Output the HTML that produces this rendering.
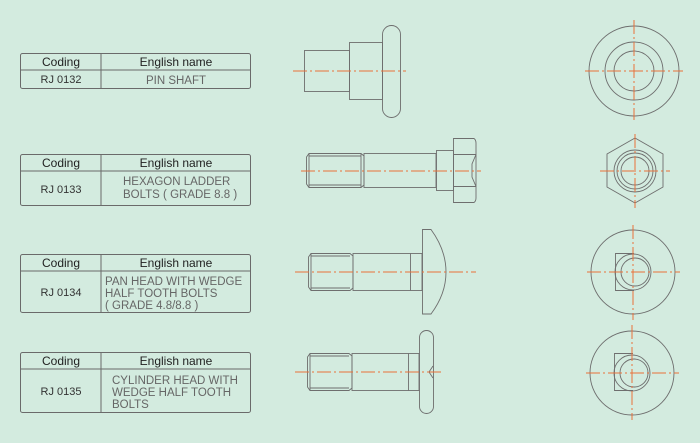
<!DOCTYPE html>
<html><head><meta charset="utf-8"><style>
html,body{margin:0;padding:0;background:#d3ebdf;}
svg{display:block;font-family:"Liberation Sans",sans-serif;}
.t{fill:none;stroke:#6a6a6a;stroke-width:1}
.d{fill:none;stroke:#6e6e6e;stroke-width:0.9}
.c{stroke:#e8703a;stroke-width:1;stroke-dasharray:14,3,2,3;fill:none}
.h{font-size:12px;fill:#222;text-anchor:middle}
.k{font-size:11px;fill:#333;text-anchor:middle}
.n{font-size:11.5px;fill:#666}
</style></head><body>
<svg width="700" height="443" viewBox="0 0 700 443" xmlns="http://www.w3.org/2000/svg">
<!-- Tables -->
<g class="t">
<rect x="20.5" y="53.5" width="230" height="35" rx="2"/><line x1="20.5" y1="70" x2="250.5" y2="70"/><line x1="101" y1="53.5" x2="101" y2="88.5"/>
<rect x="20.5" y="154.5" width="230" height="51" rx="2"/><line x1="20.5" y1="171" x2="250.5" y2="171"/><line x1="101" y1="154.5" x2="101" y2="205.5"/>
<rect x="20.5" y="254.5" width="230" height="58" rx="2"/><line x1="20.5" y1="271" x2="250.5" y2="271"/><line x1="101" y1="254.5" x2="101" y2="312.5"/>
<rect x="20.5" y="352.5" width="230" height="60" rx="2"/><line x1="20.5" y1="369" x2="250.5" y2="369"/><line x1="101" y1="352.5" x2="101" y2="412.5"/>
</g>
<text class="h" x="61" y="66">Coding</text><text class="h" x="176" y="66">English name</text>
<text class="k" x="61" y="83">RJ 0132</text><text class="n" x="176" y="84" text-anchor="middle">PIN SHAFT</text>
<text class="h" x="61" y="167">Coding</text><text class="h" x="176" y="167">English name</text>
<text class="k" x="61" y="193">RJ 0133</text>
<text class="n" x="123" y="185">HEXAGON LADDER</text><text class="n" x="123" y="198">BOLTS ( GRADE 8.8 )</text>
<text class="h" x="61" y="267">Coding</text><text class="h" x="176" y="267">English name</text>
<text class="k" x="61" y="296">RJ 0134</text>
<text class="n" x="105" y="285">PAN HEAD WITH WEDGE</text><text class="n" x="105" y="297">HALF TOOTH BOLTS</text><text class="n" x="105" y="309">( GRADE 4.8/8.8 )</text>
<text class="h" x="61" y="365">Coding</text><text class="h" x="176" y="365">English name</text>
<text class="k" x="61" y="395">RJ 0135</text>
<text class="n" x="112" y="384">CYLINDER HEAD WITH</text><text class="n" x="112" y="396">WEDGE HALF TOOTH</text><text class="n" x="112" y="408">BOLTS</text>

<!-- Pin shaft -->
<g class="d">
<rect x="304.5" y="50.5" width="45" height="41"/>
<rect x="349.5" y="42.5" width="33" height="57"/>
<rect x="382.5" y="25.5" width="18" height="92" rx="9"/>
</g>
<line class="c" x1="293" y1="71" x2="406" y2="71"/>

<!-- Hex bolt -->
<g class="d">
<path d="M309,153.5 L361,153.5 L364,156 L364,185 L361,187.5 L309,187.5 L306.5,184 L306.5,157 Z"/>
<line x1="309" y1="156" x2="361" y2="156"/><line x1="309" y1="185" x2="361" y2="185"/>
<line x1="309" y1="153.5" x2="309" y2="187.5"/>
<line x1="361" y1="153.5" x2="361" y2="187.5"/>
<rect x="364" y="153.5" width="72" height="34"/>
<rect x="436.5" y="150.5" width="17" height="40"/>
<path d="M453.5,138.5 L474,138.5 Q476,140 476,143 L476,198 Q476,201 474,202.5 L453.5,202.5 Z"/>
<line x1="453.5" y1="154.5" x2="476" y2="154.5"/><line x1="453.5" y1="186.5" x2="476" y2="186.5"/>
<path d="M476,154.5 L472,164 L472,177 L476,186.5"/>
</g>
<line class="c" x1="301" y1="171" x2="481" y2="171"/>

<!-- Pan head -->
<g class="d">
<path d="M311,253.5 L350,253.5 L353,256 L353,288 L350,290.5 L311,290.5 L308.5,287 L308.5,257 Z"/>
<line x1="311" y1="256" x2="350" y2="256"/><line x1="311" y1="288" x2="350" y2="288"/>
<line x1="311" y1="253.5" x2="311" y2="290.5"/>
<rect x="353" y="253.5" width="69" height="37"/>
<line x1="410.5" y1="253.5" x2="410.5" y2="290.5"/>
<path d="M422.5,229.5 L431,229.5 Q446,250 446,272 Q446,294 431,314 L422.5,314 Z"/>
</g>
<line class="c" x1="295" y1="272" x2="476" y2="272"/>

<!-- Cylinder head -->
<g class="d">
<path d="M310,353.5 L349,353.5 L352,356 L352,388 L349,390.5 L310,390.5 L307.5,387 L307.5,357 Z"/>
<line x1="310" y1="356" x2="349" y2="356"/><line x1="310" y1="388" x2="349" y2="388"/>
<line x1="310" y1="353.5" x2="310" y2="390.5"/>
<rect x="352" y="353.5" width="67" height="37"/>
<line x1="408.5" y1="353.5" x2="408.5" y2="390.5"/>
<rect x="419.5" y="330.5" width="14" height="83" rx="7"/>
<path d="M433,366 L429,372 L433,378"/>
</g>
<line class="c" x1="295" y1="372" x2="441" y2="372"/>

<!-- End views -->
<g class="d">
<circle cx="634" cy="71" r="45"/><circle cx="634" cy="71" r="29"/><circle cx="634" cy="71" r="20"/>
<polygon points="635,138 663,154 663,187 635,203 607,187 607,154"/>
<circle cx="635" cy="171" r="21"/><circle cx="635" cy="171" r="18"/><circle cx="635" cy="171" r="14"/>
<circle cx="633" cy="272" r="42"/>
<path d="M634,253.5 L615.5,253.5 L615.5,290.5 L634,290.5"/>
<circle cx="633" cy="272" r="18"/><circle cx="635" cy="272" r="14"/>
<circle cx="632" cy="373" r="42"/>
<path d="M633,353.5 L614.5,353.5 L614.5,390.5 L633,390.5"/>
<circle cx="632" cy="373" r="18"/><circle cx="634" cy="373" r="14"/>
</g>
<g class="c">
<line x1="585" y1="71" x2="683" y2="71"/><line x1="634" y1="20" x2="634" y2="120"/>
<line x1="600" y1="171" x2="670" y2="171"/><line x1="635" y1="134" x2="635" y2="208"/>
<line x1="587" y1="272" x2="680" y2="272"/><line x1="633" y1="225" x2="633" y2="320"/>
<line x1="586" y1="373" x2="679" y2="373"/><line x1="632" y1="325" x2="632" y2="420"/>
</g>
</svg>
</body></html>
